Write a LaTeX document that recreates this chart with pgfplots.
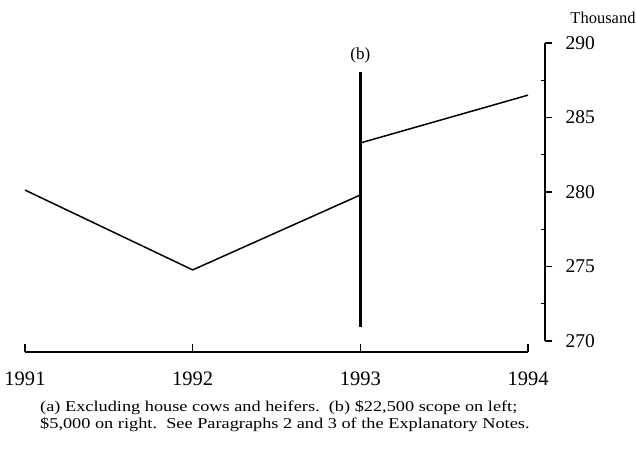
\documentclass[border=0pt]{standalone}
\usepackage{pgfplots}
\pgfplotsset{compat=1.18}
\usepackage{fontspec}
\setmainfont{Liberation Serif}
\newfontfamily\wide[FakeStretch=1.22]{Liberation Serif}
\begin{document}
\begin{tikzpicture}[x=1pt,y=1pt]
\path[use as bounding box] (0,0) rectangle (636,450);
% data and x axis
\begin{axis}[
  at={(25pt,98pt)}, anchor=south west,
  scale only axis, width=503pt, height=309pt,
  xmin=1991, xmax=1994, ymin=269.26, ymax=290,
  axis x line=bottom, axis y line=none,
  axis line style={-, line width=1.2pt},
  xtick={1991,1992,1993,1994},
  tick align=inside, major tick length=8pt,
  tick style={line width=1.2pt, black},
  xticklabel style={font=\fontsize{20.5}{20.5}\selectfont, yshift=-16pt},
  /pgf/number format/1000 sep={},
  /pgf/number format/assume math mode=true,
  clip=false,
]
\addplot[black, line width=1.5pt] coordinates {(1991,280.13)(1992,274.77)(1993,279.8)};
\addplot[black, line width=1.5pt] coordinates {(1993,283.29)(1994,286.5)};
\addplot[black, line width=3pt] coordinates {(1993,270.94)(1993,288.05)};
\node[font=\fontsize{17}{17}\selectfont] at (axis cs:1993,289.2) {(b)};
\end{axis}
% right y axis
\begin{axis}[
  at={(25pt,109pt)}, anchor=south west,
  scale only axis, width=520pt, height=298pt,
  xmin=0, xmax=1, ymin=270, ymax=290,
  axis y line=right, axis x line=none,
  axis line style={-, line width=1.2pt},
  ytick={270,275,280,285,290},
  minor ytick={272.5,277.5,282.5,287.5},
  tick align=outside, major tick length=7pt, minor tick length=-4pt,
  tick style={line width=1.2pt, black},
  yticklabel style={font=\fontsize{19.5}{19.5}\selectfont, anchor=west, xshift=10pt},
  /pgf/number format/assume math mode=true,
]
\end{axis}
\node[font=\fontsize{16.5}{16.5}\selectfont, inner sep=0pt] at (603,432) {Thousand};
\node[anchor=north west, align=left, inner sep=0pt,
  font=\wide\fontsize{15}{17.5}\selectfont] at (40,50)
  {(a) Excluding house cows and heifers.\ \ (b) \$22,500 scope on left;\\
   \$5,000 on right.\ \ See Paragraphs 2 and 3 of the Explanatory Notes.};
\end{tikzpicture}
\end{document}
